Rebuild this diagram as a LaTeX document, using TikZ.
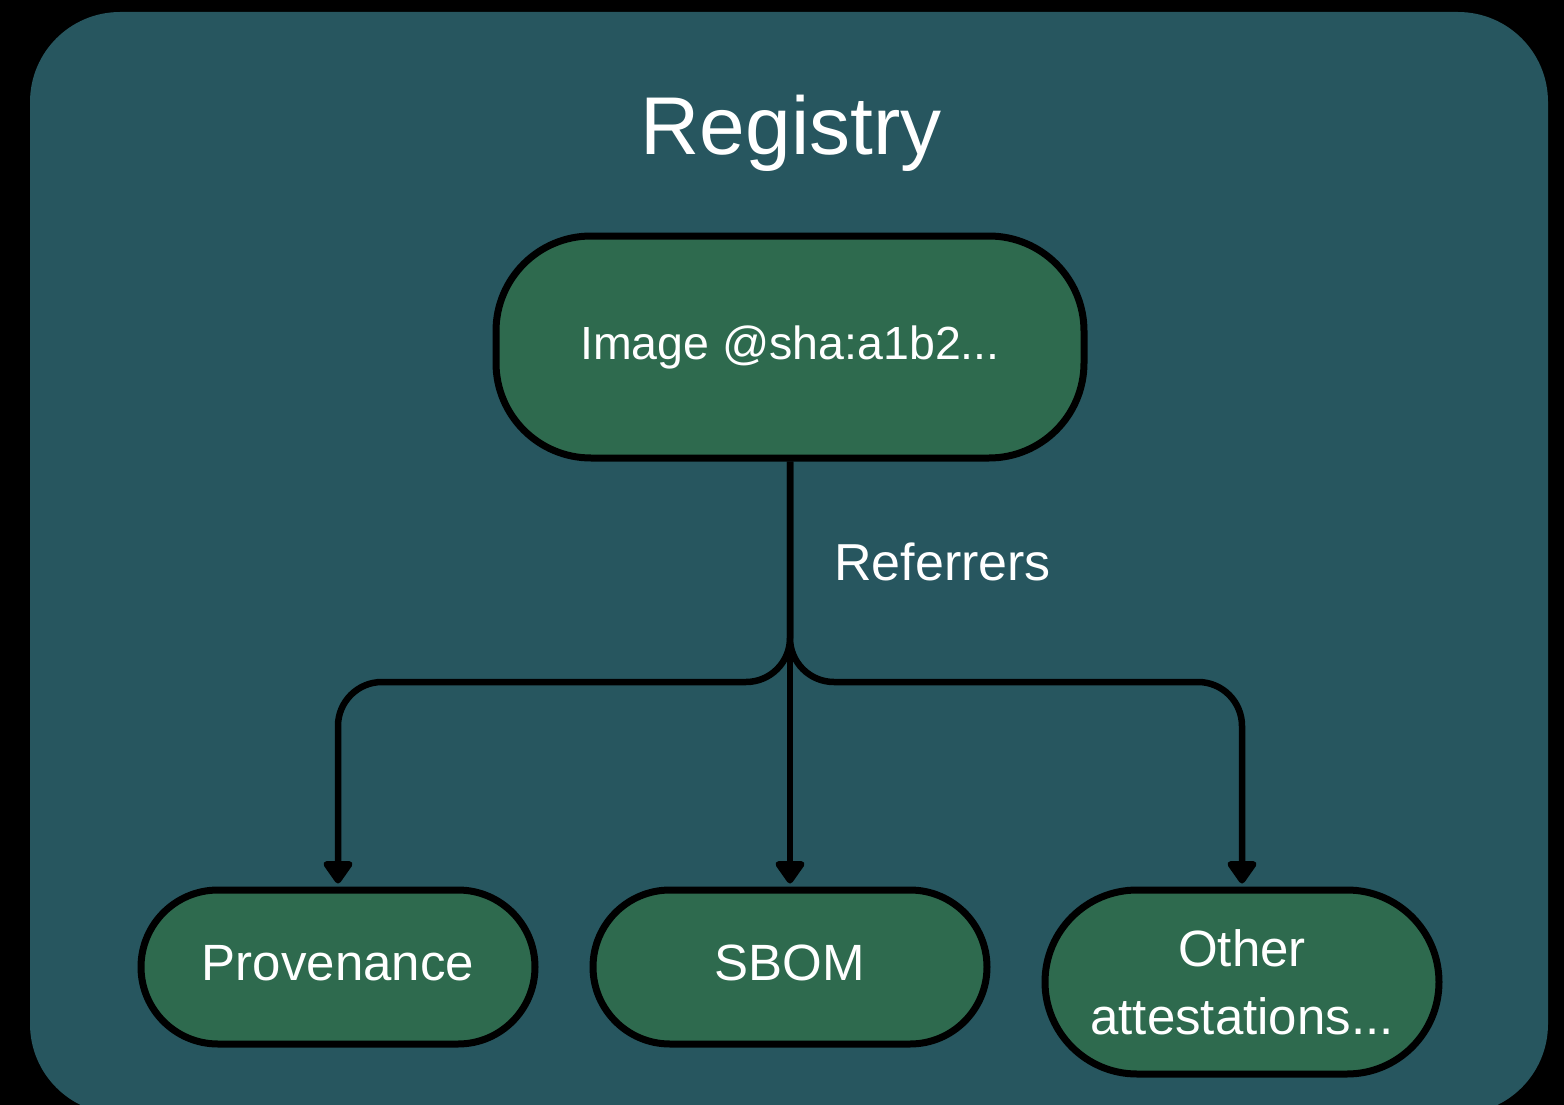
\documentclass[tikz,border=0pt]{standalone}
\usepackage{fontspec}
\setmainfont{Liberation Sans}
\usetikzlibrary{arrows.meta}
\definecolor{regteal}{HTML}{27565F}
\definecolor{artgreen}{HTML}{2E6A4E}
\tikzset{
  artifact/.style={draw=black, line width=7pt, fill=artgreen, text=white,
    inner sep=0pt, align=center, font=\fontsize{51}{68}\selectfont},
  link/.style={draw=black, line width=6.5pt,
    -{Triangle[width=33pt,length=25pt,round]}, shorten >=3pt},
}
\begin{document}
\begin{tikzpicture}[x=1pt,y=-1pt]
  % page and registry panel
  \fill[black] (0,0) rectangle (1564,1105);
  \useasboundingbox (0,0) rectangle (1564,1105);
  \fill[regteal, rounded corners=90pt] (30,12) rectangle (1548,1114);

  \node[text=white, anchor=base, font=\fontsize{82}{98}\selectfont]
    (title) at (791,155) {Registry};

  % image manifest
  \node[artifact, minimum width=588pt, minimum height=222pt,
    rounded corners=95pt, font=\fontsize{46.5}{58}\selectfont,
    text height=35pt, text depth=10pt]
    (image) at (790,347) {Image @sha:a1b2...};

  % referring artifacts
  \node[artifact, minimum width=394pt, minimum height=154pt,
    rounded corners=77pt, text height=37pt, text depth=10pt]
    (prov) at (338,967) {Provenance};
  \node[artifact, minimum width=394pt, minimum height=154pt,
    rounded corners=77pt, text height=37pt, text depth=10pt]
    (sbom) at (790,967) {SBOM};
  \node[artifact, minimum width=394pt, minimum height=184pt,
    rounded corners=92pt]
    (other) at (1242,982) {Other\\attestations...};

  \node[text=white, anchor=west, inner sep=0pt, font=\fontsize{52}{60}\selectfont]
    (refs) at (834,562) {Referrers};

  % connectors
  \coordinate (fork) at (790,682);
  \draw[link] (image.south) -- (sbom.north);
  \draw[link, rounded corners=44pt] (image.south) |- (prov.north |- fork) -- (prov.north);
  \draw[link, rounded corners=44pt] (image.south) |- (other.north |- fork) -- (other.north);
\end{tikzpicture}
\end{document}
